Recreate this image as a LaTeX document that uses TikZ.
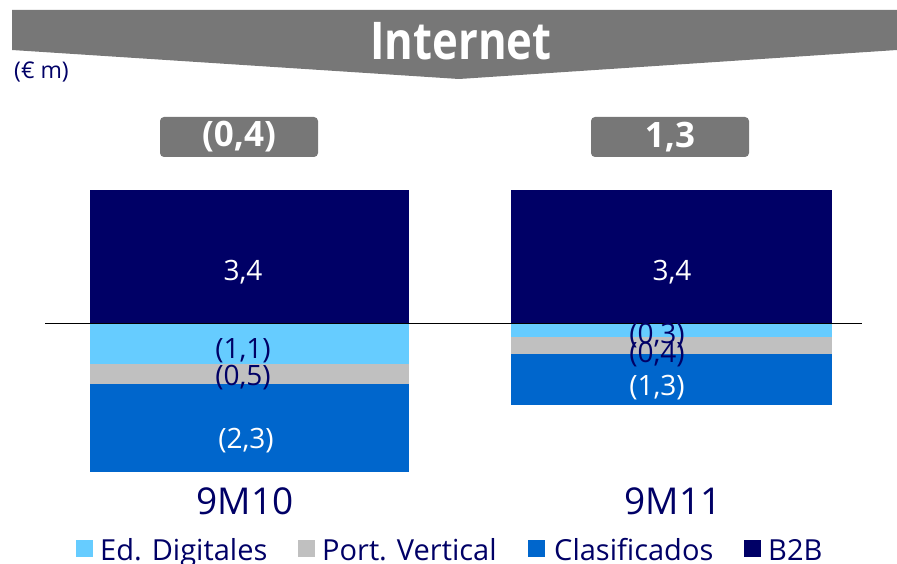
\documentclass[tikz,border=0pt]{standalone}
\usepackage{fontspec}
\setmainfont{Open Sans}
\definecolor{bannergray}{HTML}{777777}
\definecolor{navy}{HTML}{000066}
\definecolor{lblue}{HTML}{66CCFF}
\definecolor{pgray}{HTML}{C0C0C0}
\definecolor{mblue}{HTML}{0066CC}
\tikzset{
  barlbl/.style={font=\fontsize{28}{30}\selectfont, inner sep=0pt, anchor=base},
  boxlbl/.style={fill=bannergray, rounded corners=4pt, minimum width=158pt, minimum height=40pt, inner sep=0pt, text=white, font=\bfseries\fontsize{35}{38}\selectfont},
  catlbl/.style={text=navy, font=\fontsize{37}{40}\selectfont, anchor=base, inner sep=0pt},
  legsq/.style={minimum size=17pt, inner sep=0pt, anchor=north west},
  legtxt/.style={text=navy, font=\fontsize{29}{31}\selectfont, anchor=base west, inner sep=0pt},
}
\begin{document}
\begin{tikzpicture}[x=1pt,y=-1pt]
\useasboundingbox (0,0) rectangle (897,564);
% banner
\fill[bannergray] (12,10) -- (897,10) -- (897,50) -- (459,79) -- (12,50) -- cycle;
\node[text=white, anchor=base, inner sep=0pt, font=\bfseries\fontsize{52}{56}\selectfont] (title) at (461,60) {\scalebox{0.84}[1]{Internet}};
\node[text=navy, anchor=base west, inner sep=0pt, font=\fontsize{23}{25}\selectfont] (unit) at (14,79) {(€ m)};
% total boxes
\node[boxlbl] (tot1) at (239,137) {(0,4)};
\node[boxlbl] (tot2) at (670,137) {1,3};
% bar 1
\fill[navy] (90,190) rectangle (409,323);
\fill[lblue] (90,323) rectangle (409,364);
\fill[pgray] (90,364) rectangle (409,384);
\fill[mblue] (90,384) rectangle (409,472);
% bar 2
\fill[navy] (511,190) rectangle (832,323);
\fill[lblue] (511,323) rectangle (832,337);
\fill[pgray] (511,337) rectangle (832,354);
\fill[mblue] (511,354) rectangle (832,405);
% axis
\draw[black, line width=0.8pt] (45,323) -- (862,323);
% labels bar 1
\node[barlbl, text=white] (a1) at (243,280) {3,4};
\node[barlbl, text=navy] (a2) at (243,358) {(1,1)};
\node[barlbl, text=navy] (a3) at (243,385) {(0,5)};
\node[barlbl, text=white] (a4) at (246,448) {(2,3)};
% labels bar 2
\node[barlbl, text=white] (b1) at (672,280) {3,4};
\node[barlbl, text=navy] (b2) at (657,343) {(0,3)};
\node[barlbl, text=navy] (b3) at (657,362) {(0,4)};
\node[barlbl, text=white] (b4) at (657,395) {(1,3)};
% categories
\node[catlbl] (c1) at (245,514) {9M10};
\node[catlbl] (c2) at (673,514) {9M11};
% legend
\node[legsq, fill=lblue] (l1) at (76,540) {};
\node[legtxt] (t1) at (100,560) {Ed. Digitales};
\node[legsq, fill=pgray] (l2) at (298,540) {};
\node[legtxt] (t2) at (322,560) {Port. Vertical};
\node[legsq, fill=mblue] (l3) at (528,540) {};
\node[legtxt] (t3) at (554,560) {Clasificados};
\node[legsq, fill=navy] (l4) at (744,540) {};
\node[legtxt] (t4) at (768,560) {B2B};
\end{tikzpicture}
\end{document}
